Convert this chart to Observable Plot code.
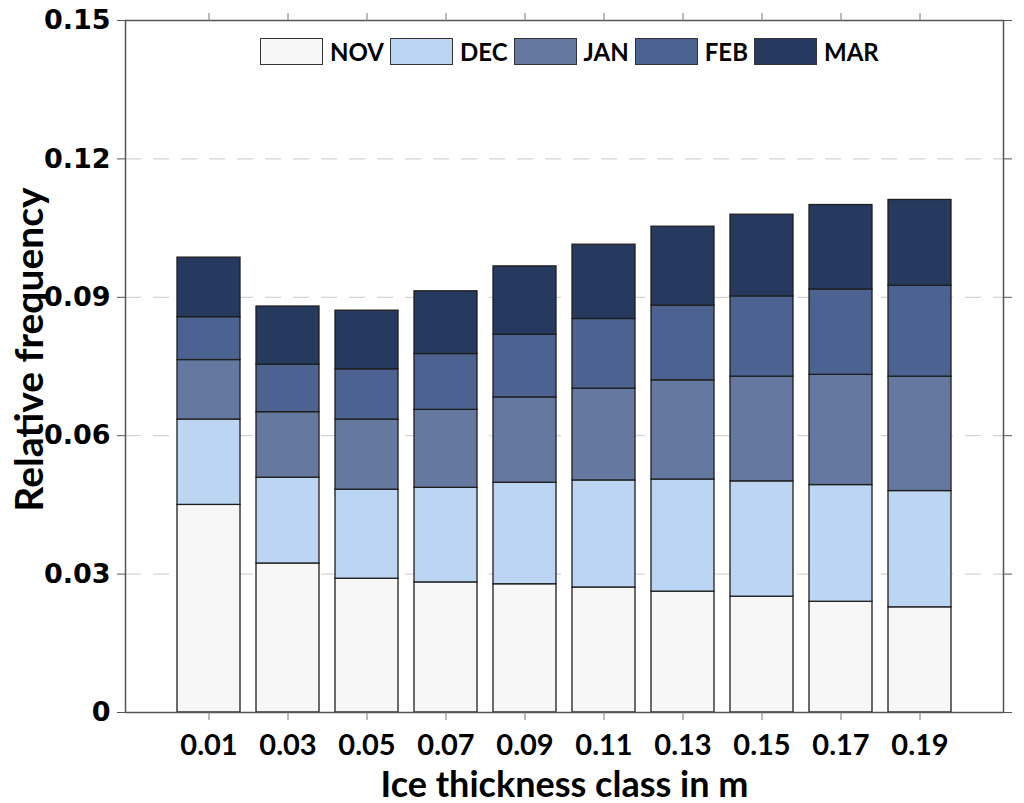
<!DOCTYPE html>
<html>
<head>
<meta charset="utf-8">
<script src="https://cdn.jsdelivr.net/npm/d3@7"></script>
<script src="https://cdn.jsdelivr.net/npm/@observablehq/plot@0.6"></script>
<style>
  html, body { margin: 0; padding: 0; background: #fff; }
  #wrap { position: relative; width: 1024px; height: 803px; }
  #wrap svg { display: block; }
  g[aria-label="y-axis tick label"] text { font-family: "DejaVu Sans", sans-serif; font-weight: bold; font-size: 27px; fill: #000; }
  g[aria-label="x-axis tick label"] text { font-family: Lato, sans-serif; font-weight: bold; font-size: 29px; fill: #000; }
  g[aria-label="y-axis label"] text { font-family: Lato, sans-serif; font-weight: bold; font-size: 39px; fill: #000; }
  g[aria-label="x-axis label"] text { font-family: Lato, sans-serif; font-weight: bold; font-size: 36px; fill: #000; }
  #legend { position: absolute; left: 260px; top: 38px; display: flex; align-items: center; font-family: Lato, sans-serif; font-weight: bold; font-size: 24px; color: #000; }
  #legend .sw { width: 63px; height: 27px; border: 1px solid #333; box-sizing: border-box; margin-right: 7px; }
  #legend .lb { margin-right: 6px; line-height: 27px; }
</style>
</head>
<body>
<div id="wrap"></div>
<script>
const classes = ["0.01","0.03","0.05","0.07","0.09","0.11","0.13","0.15","0.17","0.19"];
const months = ["NOV","DEC","JAN","FEB","MAR"];
const colors = ["#f7f7f7","#bbd5f2","#6478a0","#4c6290","#263a60"];
const nov = [0.0450,0.0323,0.0290,0.0282,0.0278,0.0271,0.0262,0.0251,0.0240,0.0228];
const dec = [0.0185,0.0186,0.0193,0.0205,0.0220,0.0232,0.0243,0.0250,0.0253,0.0252];
const jan = [0.0129,0.0142,0.0152,0.0169,0.0185,0.0199,0.0215,0.0227,0.0239,0.0248];
const feb = [0.0093,0.0103,0.0109,0.0121,0.0136,0.0151,0.0162,0.0174,0.0185,0.0197];
const mar = [0.0129,0.0126,0.0127,0.0136,0.0148,0.0161,0.0171,0.0177,0.0183,0.0186];
const yTicks = [0, 0.03, 0.06, 0.09, 0.12, 0.15];
const gridTicks = [0.03, 0.06, 0.09, 0.12];

const series = [nov, dec, jan, feb, mar];
const data = [];
classes.forEach((c, i) => {
  months.forEach((m, j) => data.push({cls: c, month: m, value: series[j][i]}));
});

const chart = Plot.plot({
  width: 1024,
  height: 803,
  marginLeft: 125,
  marginRight: 21,
  marginTop: 20,
  marginBottom: 91,
  style: {background: "#fff", overflow: "visible"},
  x: {domain: classes, paddingInner: 0.2, paddingOuter: 0.6, label: null},
  y: {domain: [0, 0.15], label: null},
  color: {domain: months, range: colors},
  marks: [
    Plot.ruleY(gridTicks, {stroke: "#c8c8c8", strokeWidth: 1, strokeDasharray: "16,12"}),
    Plot.barY(data, {x: "cls", y: "value", fill: "month", stroke: "#1e1e1e", strokeWidth: 1.3, order: null}),
    Plot.frame({stroke: "#555", strokeWidth: 1.5}),
    Plot.axisY(yTicks, {anchor: "left", tickSize: 8, tickPadding: 7, tickFormat: d => d === 0 ? "0" : d.toFixed(2), label: "Relative frequency", labelArrow: "none", labelAnchor: "center", labelOffset: 110, stroke: "#555"}),
    Plot.axisY(yTicks, {anchor: "right", tickSize: 8, tickFormat: () => "", label: null, stroke: "#555"}),
    Plot.axisX({anchor: "bottom", tickSize: 8, tickPadding: 14, label: "Ice thickness class in m", labelArrow: "none", labelAnchor: "center", labelOffset: 84, stroke: "#777"}),
    Plot.axisX({anchor: "top", tickSize: 8, tickFormat: () => "", label: null, stroke: "#777"})
  ]
});

const wrap = document.getElementById("wrap");
wrap.appendChild(chart);
d3.select(chart).selectAll('g[aria-label="y-axis label"] text').attr("dx", 17);

const legend = document.createElement("div");
legend.id = "legend";
months.forEach((m, j) => {
  const sw = document.createElement("div");
  sw.className = "sw";
  sw.style.background = colors[j];
  const lb = document.createElement("div");
  lb.className = "lb";
  lb.textContent = m;
  legend.appendChild(sw);
  legend.appendChild(lb);
});
wrap.appendChild(legend);
</script>
</body>
</html>
